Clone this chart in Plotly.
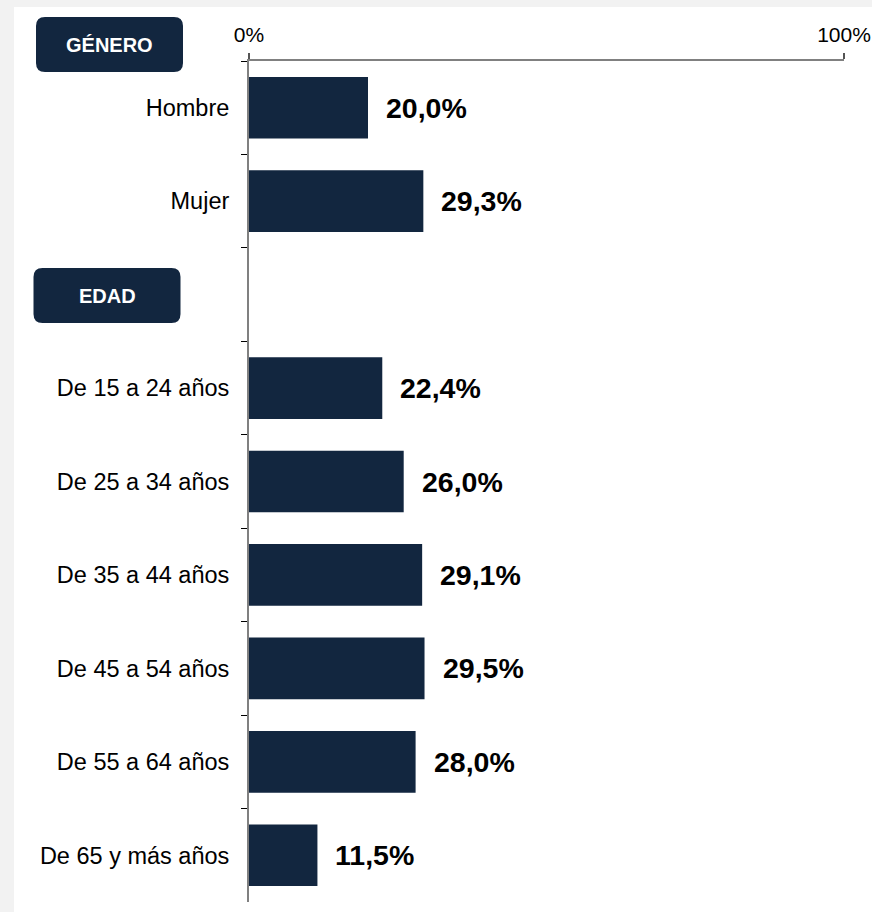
import plotly.graph_objects as go

# Data
categories = ["Hombre", "Mujer", " ", "De 15 a 24 años", "De 25 a 34 años",
              "De 35 a 44 años", "De 45 a 54 años", "De 55 a 64 años", "De 65 y más años"]
values = [20.0, 29.3, None, 22.4, 26.0, 29.1, 29.5, 28.0, 11.5]
headers = ["GÉNERO", "EDAD"]

NAVY = "#12263F"
FONT = "Arial, Liberation Sans, sans-serif"

W, H = 872, 912
ML, MR, MT, MB = 249, 28, 61, 10
pw, ph = W - ML - MR, H - MT - MB


def px_to_paper(x, y):
    return (x - ML) / pw, (H - MB - y) / ph


fig = go.Figure()
fig.add_trace(go.Bar(
    x=values, y=categories, orientation="h",
    marker=dict(color=NAVY, line=dict(width=0)),
    width=0.66, hoverinfo="x+y",
))

# value labels
for c, v in zip(categories, values):
    if v is None:
        continue
    fig.add_annotation(
        x=v, y=c, xref="x", yref="y", text="<b>" + f"{v:.1f}".replace(".", ",") + "%</b>",
        showarrow=False, xanchor="left", xshift=16,
        font=dict(family=FONT, size=28.5, color="black"),
    )


def rounded_box(w, h, r):
    a, b = w / 2, h / 2
    return (f"M {-a + r},{-b} H {a - r} Q {a},{-b} {a},{-b + r} V {b - r} "
            f"Q {a},{b} {a - r},{b} H {-a + r} Q {-a},{b} {-a},{b - r} "
            f"V {-b + r} Q {-a},{-b} {-a + r},{-b} Z")


# white panel over grey page background
x0, y0 = px_to_paper(14, H + 10)
x1, y1 = px_to_paper(W + 10, 7)
fig.add_shape(type="rect", xref="paper", yref="paper", x0=x0, x1=x1, y0=y0, y1=y1,
              fillcolor="white", line=dict(width=0), layer="below")

# header boxes
for label, (cx, cy) in zip(headers, [(109.5, 44.5), (107, 295.5)]):
    ax, ay = px_to_paper(cx, cy)
    fig.add_shape(type="path", xref="paper", yref="paper",
                  xsizemode="pixel", ysizemode="pixel", xanchor=ax, yanchor=ay,
                  path=rounded_box(147, 55, 9), fillcolor=NAVY, line=dict(width=0))
    fig.add_annotation(x=ax, y=ay, xref="paper", yref="paper", text="<b>" + label + "</b>",
                       showarrow=False, xanchor="center", yanchor="middle",
                       font=dict(family=FONT, size=20, color="white"))

fig.update_layout(
    width=W, height=H,
    margin=dict(l=ML, r=MR, t=MT, b=MB, pad=0),
    paper_bgcolor="#F2F2F2",
    plot_bgcolor="white",
    showlegend=False,
    font=dict(family=FONT, color="black"),
    xaxis=dict(
        side="top", range=[0, 100], tickvals=[0, 100], ticktext=["0%", "100%"],
        ticks="outside", ticklen=6, tickcolor="#555555", tickwidth=1.5,
        showline=True, linecolor="#808080", linewidth=2,
        showgrid=False, zeroline=False, tickfont=dict(size=21),
        ticklabelstandoff=3, automargin=False,
    ),
    yaxis=dict(
        type="category", categoryorder="array", categoryarray=categories,
        autorange="reversed", tickson="boundaries",
        ticks="outside", ticklen=6, tickcolor="black", tickwidth=1.2,
        showline=True, linecolor="#808080", linewidth=2,
        showgrid=False, zeroline=False, tickfont=dict(size=23.5),
        ticklabelstandoff=13, automargin=False,
    ),
)

fig.write_html("out.html", config={"displayModeBar": False},
               post_script="document.body.style.margin='0';")
